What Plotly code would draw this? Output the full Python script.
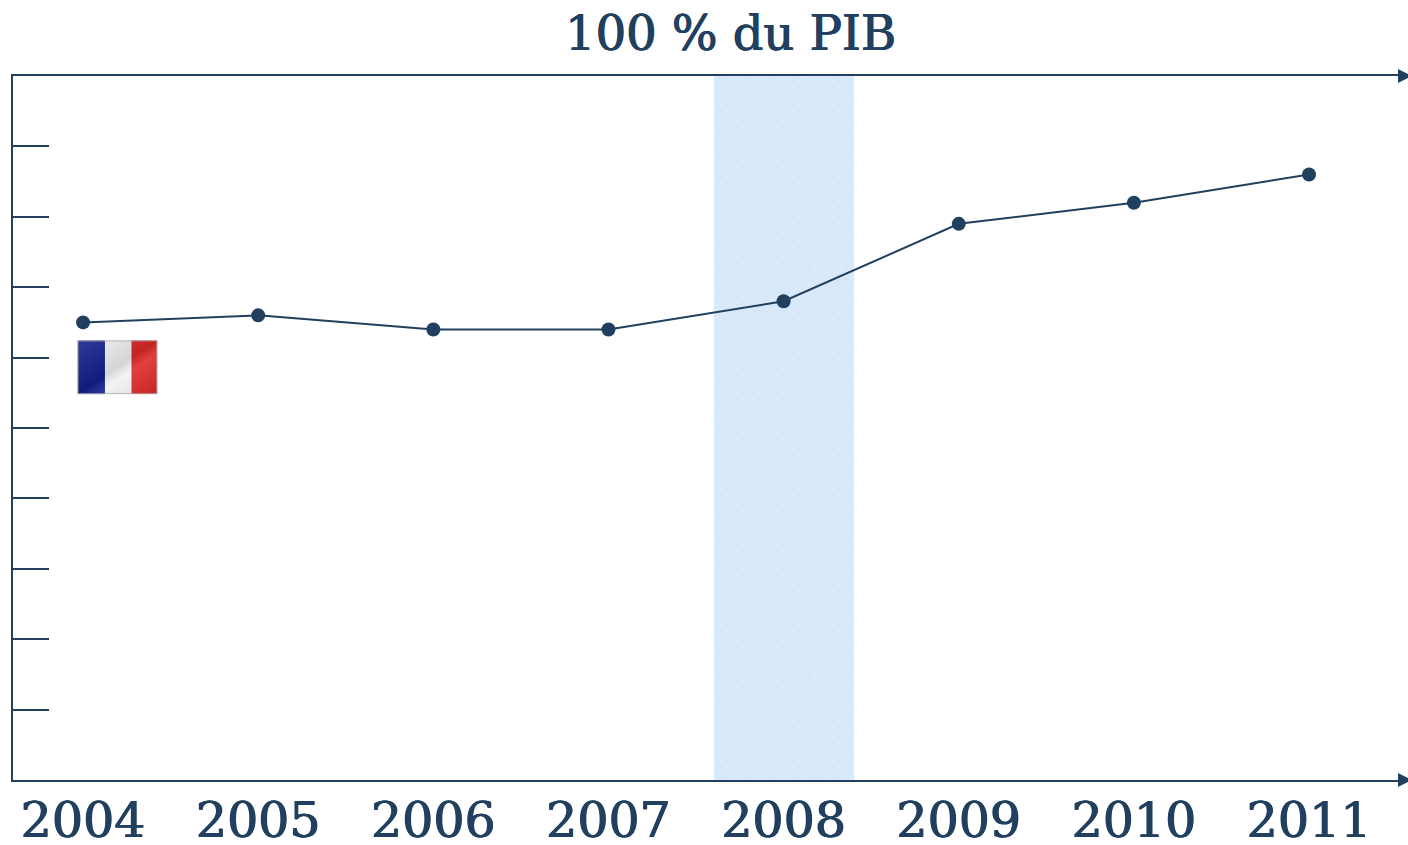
import base64
import plotly.graph_objects as go

years = [2004, 2005, 2006, 2007, 2008, 2009, 2010, 2011]
debt = [65, 66, 64, 64, 68, 79, 82, 86]
crisis_year = [2008]
crisis_height = [100]
y_ticks = [0, 10, 20, 30, 40, 50, 60, 70, 80, 90, 100]
title_text = "100 % du PIB"
NAVY = "#21405f"
FONT = "DejaVu Serif"
THICKEN = "0.6px 0 0 #21405f, -0.6px 0 0 #21405f"

flag_svg = """<svg xmlns='http://www.w3.org/2000/svg' width='80' height='54' viewBox='0 0 80 54'>
<defs><linearGradient id='g' x1='0' y1='0' x2='1' y2='1'>
<stop offset='0' stop-color='#fff' stop-opacity='.12'/><stop offset='.5' stop-color='#000' stop-opacity='.12'/>
<stop offset='.62' stop-color='#fff' stop-opacity='.1'/><stop offset='1' stop-color='#000' stop-opacity='.1'/></linearGradient></defs>
<rect x='0' y='0' width='27.5' height='54' fill='#131f8c'/>
<rect x='27.5' y='0' width='26.5' height='54' fill='#f2f2f2'/>
<rect x='54' y='0' width='26' height='54' fill='#dc2a28'/>
<rect x='0' y='0' width='80' height='54' fill='url(#g)'/>
<rect x='.5' y='.5' width='79' height='53' fill='none' stroke='#aaa' stroke-width='1'/>
</svg>"""
flag_uri = "data:image/svg+xml;base64," + base64.b64encode(flag_svg.encode()).decode()

W, H = 1408, 845
L, R, T, B = 12.5, 0, 75.5, 65
PW, PH = W - L - R, H - T - B

fig = go.Figure()
fig.add_trace(go.Bar(
    x=crisis_year, y=crisis_height, width=0.8,
    marker=dict(color="#d6e8f9", line_width=0,
                pattern=dict(shape="x", fgcolor="#e6f1fb", size=16, solidity=0.14, bgcolor="#d6e8f9")),
    hoverinfo="skip", showlegend=False))
fig.add_trace(go.Scatter(
    x=years, y=debt, mode="lines+markers",
    line=dict(color=NAVY, width=2), marker=dict(color=NAVY, size=14),
    showlegend=False))

# arrowheads at the right end of the top and bottom axis lines
shapes = []
for yp in (0, 1):
    px = lambda v: (v - L) / PW
    py = lambda v: v / PH
    shapes.append(dict(type="path", xref="paper", yref="paper",
                       path=f"M {px(1398)} {yp + py(7)} L {px(1412)} {yp} L {px(1398)} {yp - py(7)} Z",
                       fillcolor=NAVY, line_width=0, layer="above"))

fig.add_annotation(xref="paper", yref="paper", x=(730 - L) / PW, y=1, yanchor="bottom",
                   yshift=13, text=title_text, showarrow=False,
                   font=dict(family=FONT, size=48, color=NAVY, shadow=THICKEN))

fig.update_layout(
    width=W, height=H, margin=dict(l=L, r=R, t=T, b=B, pad=0, autoexpand=False),
    paper_bgcolor="white", plot_bgcolor="white", bargap=0,
    font=dict(family=FONT, color=NAVY),
    shapes=shapes,
    images=[dict(source=flag_uri, xref="paper", yref="paper",
                 x=(77 - L) / PW, y=1 - (340 - T) / PH,
                 sizex=80 / PW, sizey=54 / PH,
                 xanchor="left", yanchor="top", sizing="stretch", layer="above")],
    xaxis=dict(range=[2003.6, 2011.565], tickmode="array", tickvals=years,
               ticktext=[str(y) for y in years], showgrid=False, zeroline=False,
               showline=True, linecolor=NAVY, linewidth=2, mirror=True,
               ticks="", ticklabelstandoff=-4, automargin=False,
               tickfont=dict(family=FONT, size=49, color=NAVY, shadow=THICKEN)),
    yaxis=dict(range=[0, 100], tickmode="array", tickvals=y_ticks, showticklabels=False,
               showgrid=False, zeroline=False, showline=True, linecolor=NAVY, linewidth=2,
               ticks="inside", ticklen=36, tickcolor=NAVY, tickwidth=1.5),
)

fig.write_html("out.html", config={"displayModeBar": False},
               post_script="document.body.style.margin='0';document.documentElement.style.overflow='hidden';")
